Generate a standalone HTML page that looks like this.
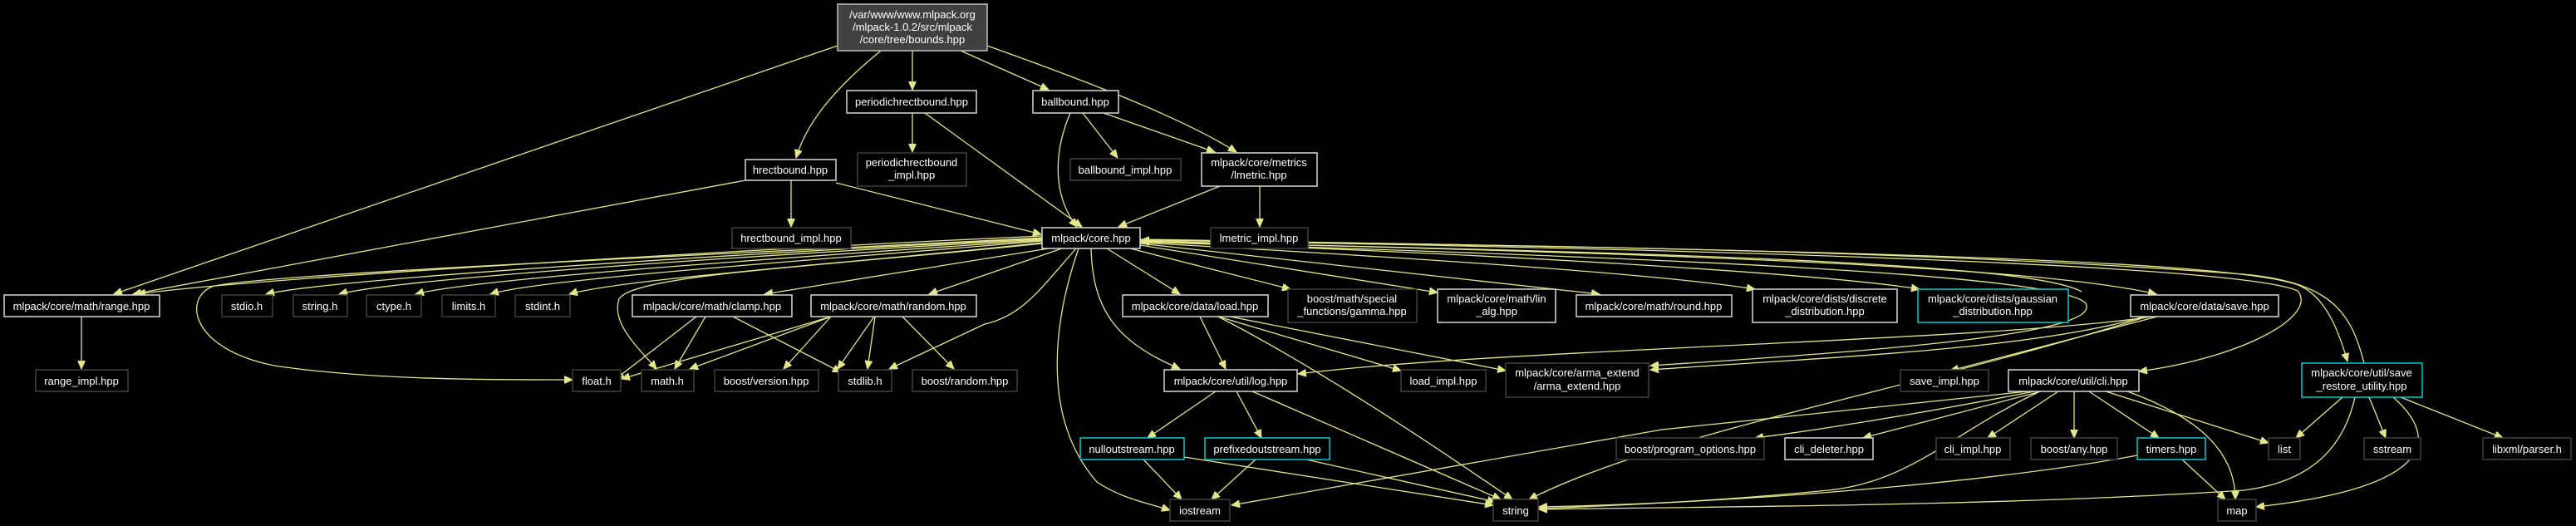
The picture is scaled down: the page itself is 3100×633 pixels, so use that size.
<!DOCTYPE html>
<html><head><meta charset="utf-8"><style>
html,body{margin:0;padding:0;background:#000;}
svg{display:block}
text{font-family:"Liberation Sans",Arial,sans-serif;font-size:13px;fill:#fff;text-anchor:middle}
.e{fill:none;stroke:#e5e58a;stroke-width:1.3}
.w{fill:#000;stroke:#d8d8d8;stroke-width:1.5}
.g{fill:#000;stroke:#404040;stroke-width:1.5}
.c{fill:#000;stroke:#00d0d0;stroke-width:1.5}
</style></head><body>
<svg width="3100" height="633" viewBox="0 0 3100 633" xmlns="http://www.w3.org/2000/svg">
<defs><marker id="a" markerWidth="11" markerHeight="9" refX="10" refY="4.5" orient="auto" markerUnits="userSpaceOnUse"><path d="M0,0 L10,4.5 L0,9 Z" fill="#e5e58a" stroke="#e5e58a"/></marker></defs>
<g class="e" marker-end="url(#a)">
<!-- root -->
<path d="M1008,55 L137,354"/>
<path d="M1060,61 C1000,110 970,150 958,190"/>
<path d="M1098,61 L1098,108"/>
<path d="M1156,61 L1262,108"/>
<path d="M1188,55 C1300,95 1420,140 1488,183"/>
<!-- hrectbound -->
<path d="M897,217 L160,354"/>
<path d="M952,217 L952,273"/>
<path d="M1006,220 L1253,282"/>
<!-- range -->
<path d="M98,381 L98,444"/>
<!-- periodic -->
<path d="M1098,136 L1098,183"/>
<path d="M1113,136 L1302,273"/>
<path d="M1288,136 C1265,190 1270,240 1296,273"/>
<path d="M1303,136 L1345,190"/>
<path d="M1328,136 L1462,183"/>
<path d="M1468,224 L1346,273"/>
<path d="M1516,224 L1516,273"/>
<!-- core outgoing left -->
<path d="M1254,284 C900,300 300,335 165,354"/>
<path d="M1254,286 C900,305 300,330 255,345 C220,360 230,420 330,440 C450,458 600,457 689,457"/>
<path d="M1254,287 C900,305 400,335 320,354"/>
<path d="M1254,288 C900,308 480,335 408,354"/>
<path d="M1254,289 C950,310 570,335 500,354"/>
<path d="M1254,290 C1000,312 650,335 590,354"/>
<path d="M1254,292 C1050,315 750,335 685,354"/>
<path d="M1254,293 C1000,320 760,330 745,360 C735,390 770,420 790,444"/>
<path d="M1262,299 L920,354"/>
<path d="M1278,299 L1118,354"/>
<path d="M1295,299 C1250,350 1230,380 1185,390 L1070,444"/>
<path d="M1298,299 C1270,380 1250,500 1320,580 C1350,600 1380,605 1408,614"/>
<path d="M1313,299 C1315,370 1340,410 1420,444"/>
<path d="M1332,299 L1420,354"/>
<path d="M1360,299 L1553,348"/>
<path d="M1372,295 L1730,352"/>
<path d="M1372,293 L1925,354"/>
<path d="M1372,292 C1700,310 2000,330 2112,348"/>
<path d="M1372,291 C1800,305 2200,330 2310,348"/>
<path d="M1372,290 C2000,305 2450,320 2595,354"/>
<path d="M1372,289 C2100,300 2700,320 2765,350 C2790,380 2700,430 2574,447"/>
<path d="M1372,288 C2100,300 2700,310 2770,345 C2800,360 2815,400 2825,435"/>
<path d="M1372,291 C2000,310 2480,330 2510,365 C2530,400 2300,420 1986,440"/>
<!-- into core from right -->
<path d="M2845,437 C2830,380 2810,340 2700,330 C2300,300 1800,295 1373,289"/>
<path d="M2505,351 C2450,320 2100,305 1373,291"/>
<!-- clamp -->
<path d="M838,381 L741,456"/>
<path d="M849,381 L812,444"/>
<path d="M882,381 L1012,448"/>
<!-- random -->
<path d="M1000,381 L748,456"/>
<path d="M1000,381 L830,444"/>
<path d="M1052,381 L1008,444"/>
<path d="M1053,381 L1044,444"/>
<path d="M1086,381 L1148,444"/>
<path d="M1000,381 L943,444"/>
<!-- load -->
<path d="M1444,381 L1475,444"/>
<path d="M1466,381 L1686,446"/>
<path d="M1480,381 L1812,446"/>
<path d="M1466,381 C1600,450 1760,560 1820,601"/>
<!-- log -->
<path d="M1463,471 L1381,527"/>
<path d="M1488,471 L1518,527"/>
<path d="M1507,471 L1806,601"/>
<path d="M1376,553 L1422,601"/>
<path d="M1511,553 L1458,601"/>
<path d="M1425,550 L1797,608"/>
<path d="M1572,553 L1800,604"/>
<!-- save -->
<path d="M2590,381 C2400,410 1800,420 1562,450"/>
<path d="M2596,381 L2347,446"/>
<path d="M2580,381 C2450,420 2200,430 1986,445"/>
<path d="M2584,381 C2300,470 2000,520 1840,601"/>
<!-- cli -->
<path d="M2440,471 L2000,517 L1482,608"/>
<path d="M2448,471 C2300,500 2170,520 2112,527"/>
<path d="M2456,471 L2242,527"/>
<path d="M2477,471 L2392,527"/>
<path d="M2496,471 L2496,527"/>
<path d="M2514,471 L2598,527"/>
<path d="M2534,471 L2730,533"/>
<path d="M2560,471 C2640,500 2690,540 2690,601"/>
<path d="M2455,471 C2350,520 2300,580 2200,590 C2050,605 1900,610 1852,612"/>
<!-- timers -->
<path d="M2626,553 L2678,601"/>
<path d="M2572,548 C2400,580 2100,605 1852,610"/>
<!-- save_restore -->
<path d="M2819,478 L2763,527"/>
<path d="M2851,478 L2871,527"/>
<path d="M2889,478 L3012,527"/>
<path d="M2880,478 C2950,540 2900,590 2715,610"/>
<path d="M2834,478 C2820,540 2780,580 2700,590 C2400,610 2000,610 1852,613"/>
</g>
<!-- nodes -->
<rect x="1008" y="5" width="180" height="56" fill="#404040" stroke="#bfbfbf" stroke-width="1.5"/>
<text x="1098" y="22">/var/www/www.mlpack.org</text><text x="1098" y="37">/mlpack-1.0.2/src/mlpack</text><text x="1098" y="52">/core/tree/bounds.hpp</text>
<rect class="w" x="1019" y="109" width="156" height="27"/><text x="1097" y="127">periodichrectbound.hpp</text>
<rect class="w" x="1243" y="109" width="103" height="27"/><text x="1294" y="127">ballbound.hpp</text>
<rect class="w" x="897" y="192" width="109" height="25"/><text x="951" y="209">hrectbound.hpp</text>
<rect class="g" x="1032" y="184" width="131" height="40"/><text x="1097" y="200">periodichrectbound</text><text x="1097" y="215">_impl.hpp</text>
<rect class="g" x="1288" y="191" width="133" height="26"/><text x="1354" y="209">ballbound_impl.hpp</text>
<rect class="w" x="1446" y="184" width="139" height="40"/><text x="1515" y="200">mlpack/core/metrics</text><text x="1515" y="215">/lmetric.hpp</text>
<rect class="g" x="881" y="274" width="143" height="25"/><text x="952" y="291">hrectbound_impl.hpp</text>
<rect class="w" x="1254" y="274" width="118" height="25"/><text x="1313" y="291">mlpack/core.hpp</text>
<rect class="g" x="1457" y="274" width="117" height="25"/><text x="1515" y="291">lmetric_impl.hpp</text>

<rect class="w" x="5" y="355" width="187" height="26"/><text x="98" y="373">mlpack/core/math/range.hpp</text>
<rect class="g" x="267" y="355" width="61" height="26"/><text x="297" y="373">stdio.h</text>
<rect class="g" x="353" y="355" width="65" height="26"/><text x="385" y="373">string.h</text>
<rect class="g" x="441" y="355" width="66" height="26"/><text x="474" y="373">ctype.h</text>
<rect class="g" x="532" y="355" width="64" height="26"/><text x="564" y="373">limits.h</text>
<rect class="g" x="620" y="355" width="66" height="26"/><text x="653" y="373">stdint.h</text>
<rect class="w" x="761" y="355" width="192" height="26"/><text x="857" y="373">mlpack/core/math/clamp.hpp</text>
<rect class="w" x="976" y="355" width="199" height="26"/><text x="1075" y="373">mlpack/core/math/random.hpp</text>
<rect class="w" x="1351" y="355" width="175" height="26"/><text x="1438" y="373">mlpack/core/data/load.hpp</text>
<rect class="g" x="1550" y="348" width="155" height="40"/><text x="1627" y="364">boost/math/special</text><text x="1627" y="379">_functions/gamma.hpp</text>
<rect class="w" x="1730" y="348" width="142" height="40"/><text x="1801" y="364">mlpack/core/math/lin</text><text x="1801" y="379">_alg.hpp</text>
<rect class="w" x="1897" y="355" width="187" height="26"/><text x="1990" y="373">mlpack/core/math/round.hpp</text>
<rect class="w" x="2109" y="348" width="174" height="40"/><text x="2196" y="364">mlpack/core/dists/discrete</text><text x="2196" y="379">_distribution.hpp</text>
<rect class="c" x="2308" y="348" width="181" height="40"/><text x="2398" y="364">mlpack/core/dists/gaussian</text><text x="2398" y="379">_distribution.hpp</text>
<rect class="w" x="2564" y="355" width="178" height="26"/><text x="2653" y="373">mlpack/core/data/save.hpp</text>

<rect class="g" x="43" y="445" width="111" height="26"/><text x="98" y="463">range_impl.hpp</text>
<rect class="g" x="689" y="445" width="58" height="26"/><text x="718" y="463">float.h</text>
<rect class="g" x="772" y="445" width="63" height="26"/><text x="803" y="463">math.h</text>
<rect class="g" x="860" y="445" width="125" height="26"/><text x="922" y="463">boost/version.hpp</text>
<rect class="g" x="1009" y="445" width="64" height="26"/><text x="1041" y="463">stdlib.h</text>
<rect class="g" x="1098" y="445" width="126" height="26"/><text x="1161" y="463">boost/random.hpp</text>
<rect class="w" x="1401" y="445" width="160" height="26"/><text x="1481" y="463">mlpack/core/util/log.hpp</text>
<rect class="g" x="1686" y="445" width="102" height="26"/><text x="1737" y="463">load_impl.hpp</text>
<rect class="g" x="1812" y="437" width="172" height="41"/><text x="1898" y="453">mlpack/core/arma_extend</text><text x="1898" y="469">/arma_extend.hpp</text>
<rect class="g" x="2287" y="445" width="106" height="26"/><text x="2340" y="463">save_impl.hpp</text>
<rect class="w" x="2417" y="445" width="157" height="26"/><text x="2495" y="463">mlpack/core/util/cli.hpp</text>
<rect class="c" x="2770" y="437" width="145" height="41"/><text x="2842" y="453">mlpack/core/util/save</text><text x="2842" y="469">_restore_utility.hpp</text>

<rect class="c" x="1300" y="527" width="125" height="26"/><text x="1362" y="545">nulloutstream.hpp</text>
<rect class="c" x="1450" y="527" width="150" height="26"/><text x="1525" y="545">prefixedoutstream.hpp</text>
<rect class="g" x="1945" y="527" width="178" height="26"/><text x="2034" y="545">boost/program_options.hpp</text>
<rect class="w" x="2148" y="527" width="106" height="26"/><text x="2201" y="545">cli_deleter.hpp</text>
<rect class="g" x="2330" y="527" width="89" height="26"/><text x="2374" y="545">cli_impl.hpp</text>
<rect class="g" x="2444" y="527" width="104" height="26"/><text x="2496" y="545">boost/any.hpp</text>
<rect class="c" x="2572" y="527" width="82" height="26"/><text x="2613" y="545">timers.hpp</text>
<rect class="g" x="2730" y="527" width="38" height="26"/><text x="2749" y="545">list</text>
<rect class="g" x="2845" y="527" width="68" height="26"/><text x="2879" y="545">sstream</text>
<rect class="g" x="2988" y="527" width="106" height="26"/><text x="3041" y="545">libxml/parser.h</text>

<rect class="g" x="1408" y="601" width="72" height="26"/><text x="1444" y="619">iostream</text>
<rect class="g" x="1797" y="601" width="54" height="26"/><text x="1824" y="619">string</text>
<rect class="g" x="2669" y="601" width="46" height="26"/><text x="2692" y="619">map</text>
</svg>
</body></html>
